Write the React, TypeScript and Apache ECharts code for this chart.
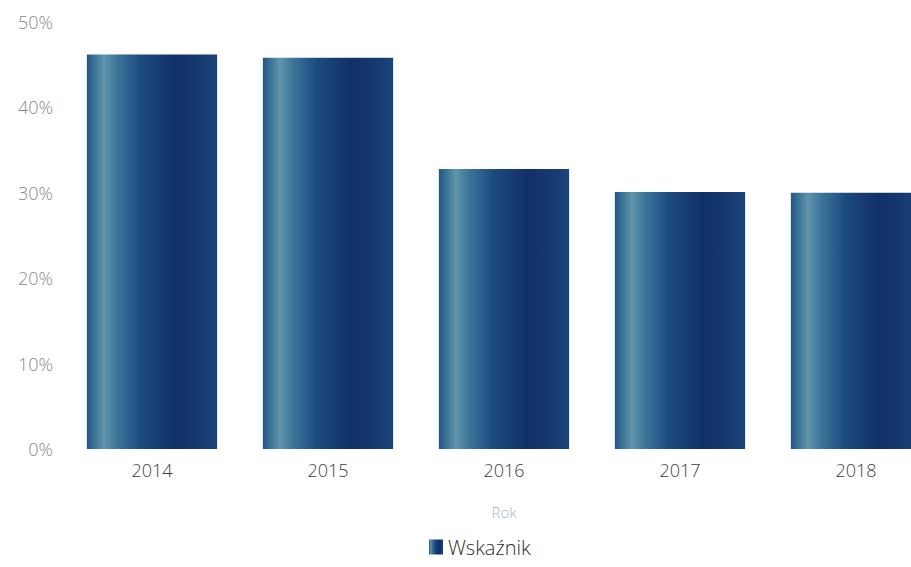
import React, { useEffect, useRef } from "react";
import * as echarts from "echarts";

const categories = ["2014", "2015", "2016", "2017", "2018"];
const values = [46.2, 45.8, 32.8, 30.1, 30.0];
const seriesName = "Wskaźnik";
const axisName = "Rok";

export default function App() {
  const ref = useRef<HTMLDivElement>(null);
  useEffect(() => {
    if (!ref.current) return;
    const chart = echarts.init(ref.current, undefined, { renderer: "svg" });
    const grad = new echarts.graphic.LinearGradient(0, 0, 1, 0, [
      { offset: 0, color: "#1e5884" },
      { offset: 0.13, color: "#6194ad" },
      { offset: 0.24, color: "#3a7398" },
      { offset: 0.42, color: "#1b4a7e" },
      { offset: 0.68, color: "#112f69" },
      { offset: 0.88, color: "#173b72" },
      { offset: 1, color: "#1c4578" },
    ]);
    chart.setOption({
      animation: false,
      backgroundColor: "#ffffff",
      grid: { left: 64, width: 880, top: 22, bottom: 118, containLabel: false },
      legend: {
        data: [seriesName],
        left: 424,
        bottom: 5,
        itemWidth: 14,
        itemHeight: 15,
        itemGap: 5,
        icon: "rect",
        textStyle: { color: "#2e2e2e", fontSize: 20, fontWeight: 300, fontFamily: "Open Sans" },
      },
      xAxis: {
        type: "category",
        data: categories,
        name: axisName,
        nameLocation: "middle",
        nameGap: 55,
        nameTextStyle: { color: "#a9b3bf", fontSize: 15, fontWeight: 300, fontFamily: "Open Sans" },
        axisLine: { show: false },
        axisTick: { show: false },
        axisLabel: { color: "#3e3e3e", fontSize: 18, fontWeight: 300, margin: 12, fontFamily: "Open Sans" },
      },
      yAxis: {
        type: "value",
        min: 0,
        max: 50,
        interval: 10,
        splitLine: { show: false },
        axisLine: { show: false },
        axisTick: { show: false },
        axisLabel: {
          formatter: "{value}%",
          color: "#8a8a8a",
          fontSize: 18,
          fontWeight: 300,
          margin: 11,
          fontFamily: "Open Sans",
        },
      },
      series: [
        {
          name: seriesName,
          type: "bar",
          data: values,
          barWidth: "74%",
          itemStyle: { color: grad },
        },
      ],
    });
    return () => chart.dispose();
  }, []);
  return (
    <div style={{ position: "fixed", left: 0, top: 0, width: "911px", height: "567px", overflow: "hidden", background: "#fff" }}>
      <div ref={ref} style={{ width: "960px", height: "567px" }} />
    </div>
  );
}
